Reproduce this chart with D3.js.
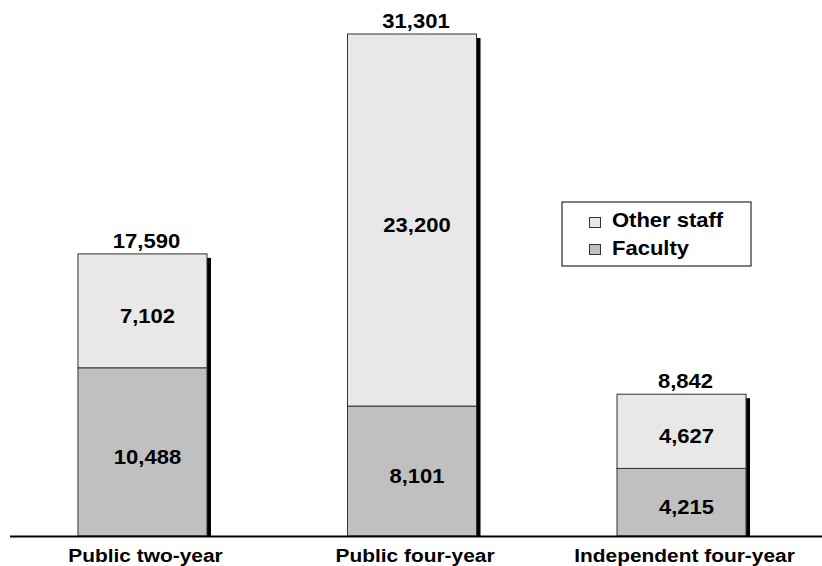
<!DOCTYPE html>
<html>
<head>
<meta charset="utf-8">
<script src="https://cdn.jsdelivr.net/npm/d3@7"></script>
<style>
  body { margin: 0; background: #fff; }
  text { font-family: "Liberation Sans", Arial, sans-serif; font-weight: bold; fill: #000; }
</style>
</head>
<body>
<script>
// categorias y valores
let categories = ["Public two-year", "Public four-year", "Independent four-year"];
let faculty = [10488, 8101, 4215];
let otherStaff = [7102, 23200, 4627];
let totals = [17590, 31301, 8842];
let seriesNames = ["Other staff", "Faculty"];
let seriesColors = ["#e8e8e8", "#c0c0c0"];

let width = 822, height = 566;
let svg = d3.select("body").append("svg")
  .attr("width", width)
  .attr("height", height);

let baseY = 536, topY = 34;
let x = d3.scaleBand()
  .domain(categories)
  .range([10.6, 813.4])
  .paddingInner(0.5213)
  .paddingOuter(0.25);
let y = d3.scaleLinear()
  .domain([0, 31301])
  .range([baseY, topY]);

let fmt = d3.format(",");
// texto algo ensanchado, como en el original
function label(sel, cx, cy, txt, size) {
  return sel.append("text")
    .attr("transform", "translate(" + cx + "," + cy + ") scale(1.1,1)")
    .attr("text-anchor", "middle")
    .attr("font-size", size)
    .text(txt);
}

// apilado
let rows = categories.map((c, i) => ({cat: c, faculty: faculty[i], other: otherStaff[i], total: totals[i]}));
let stack = d3.stack().keys(["faculty", "other"])(rows);

// sombra de las barras
svg.selectAll("rect.shadow")
  .data(rows)
  .enter().append("rect")
  .attr("class", "shadow")
  .attr("x", d => x(d.cat) + x.bandwidth())
  .attr("y", d => y(d.faculty + d.other) + 4)
  .attr("width", 4)
  .attr("height", d => baseY - y(d.faculty + d.other) - 4)
  .attr("fill", "#000");

let colorFor = {faculty: seriesColors[1], other: seriesColors[0]};
stack.forEach(layer => {
  svg.selectAll("rect.seg-" + layer.key)
    .data(layer)
    .enter().append("rect")
    .attr("x", d => x(d.data.cat))
    .attr("y", d => y(d[1]))
    .attr("width", x.bandwidth())
    .attr("height", d => y(d[0]) - y(d[1]))
    .attr("fill", colorFor[layer.key])
    .attr("stroke", "#333")
    .attr("stroke-width", 1);

  // etiquetas de cada segmento
  layer.forEach(d => {
    label(svg, x(d.data.cat) + x.bandwidth() / 2 + 5, (y(d[0]) + y(d[1])) / 2 + 12, fmt(d.data[layer.key]), 20);
  });
});

// totales
rows.forEach(d => {
  label(svg, x(d.cat) + x.bandwidth() / 2 + 4, y(d.total) - 6, fmt(d.total), 20);
});

// eje x
svg.append("line")
  .attr("x1", 10).attr("x2", 822)
  .attr("y1", baseY + 0.5).attr("y2", baseY + 0.5)
  .attr("stroke", "#000").attr("stroke-width", 2);

categories.forEach(c => {
  label(svg, x(c) + x.bandwidth() / 2 + 3, 562, c, 19);
});

// leyenda
let legend = svg.append("g").attr("transform", "translate(562,202)");
legend.append("rect")
  .attr("width", 189).attr("height", 64)
  .attr("fill", "#fff").attr("stroke", "#000").attr("stroke-width", 1);
seriesNames.forEach((s, i) => {
  legend.append("rect")
    .attr("x", 27.5).attr("y", 15.5 + i * 27)
    .attr("width", 11).attr("height", 10)
    .attr("fill", seriesColors[i]).attr("stroke", "#333");
  legend.append("text")
    .attr("transform", "translate(50," + (25 + i * 28) + ") scale(1.1,1)")
    .attr("font-size", 20)
    .text(s);
});
</script>
</body>
</html>
